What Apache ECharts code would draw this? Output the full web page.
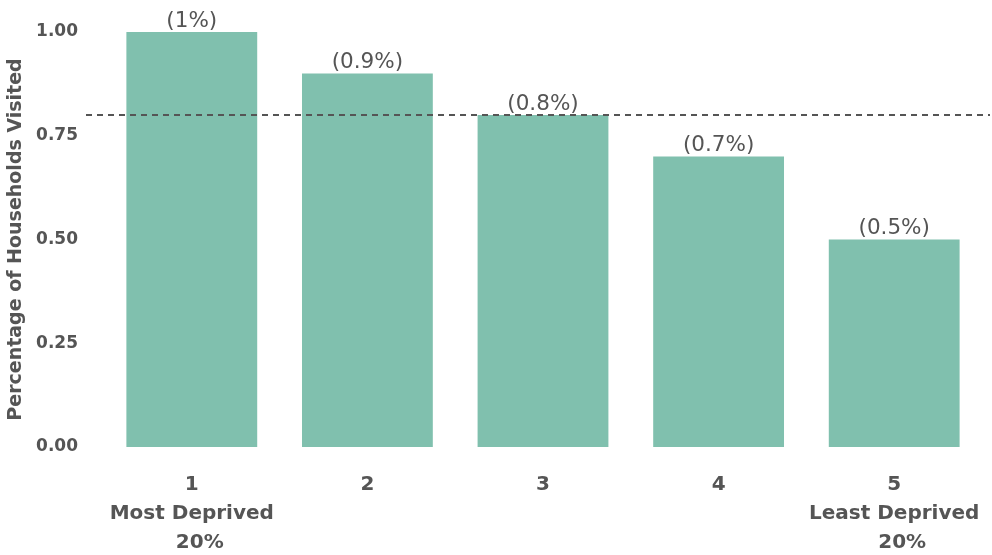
<!DOCTYPE html>
<html>
<head>
<meta charset="utf-8">
<script src="https://cdn.jsdelivr.net/npm/echarts@6/dist/echarts.min.js"></script>
<style>html,body{margin:0;padding:0;background:#fff}#c{width:992px;height:555px}</style>
</head>
<body>
<div id="c"></div>
<script>
var categories = ['1\nMost Deprived\n20%', '2', '3', '4', '5\nLeast Deprived\n20%'];
var values = [1.0, 0.9, 0.8, 0.7, 0.5];
var valueLabels = ['(1%)', '(0.9%)', '(0.8%)', '(0.7%)', '(0.5%)'];
var yTicks = [0, 0.25, 0.5, 0.75, 1.0];
var referenceValue = 0.8;

var FONT = 'DejaVu Sans, Liberation Sans, Arial, sans-serif';
var chart = echarts.init(document.getElementById('c'));
chart.setOption({
  animation: false,
  grid: {left: 104, right: 10, top: 32, bottom: 108, outerBoundsMode: 'none', containLabel: false},
  xAxis: {
    type: 'category',
    data: categories,
    axisLine: {show: false},
    axisTick: {show: false},
    axisLabel: {
      color: '#555', fontSize: 20, fontWeight: 'bold',
      fontFamily: FONT,
      lineHeight: 29, margin: 23, interval: 0,
      formatter: function (v) {
        var lines = v.split('\n');
        if (lines.length === 3) { lines[2] = '{p|' + lines[2] + '}'; }
        return lines.join('\n');
      },
      rich: {
        p: {color: '#555', fontSize: 20, fontWeight: 'bold', fontFamily: FONT, lineHeight: 29, padding: [0, 0, 0, 16]}
      }
    }
  },
  yAxis: {
    type: 'value', min: 0, max: 1, interval: 0.25,
    name: 'Percentage of Households Visited',
    nameLocation: 'middle', nameGap: 74,
    nameTextStyle: {color: '#555', fontSize: 19, fontWeight: 'bold', fontFamily: FONT},
    splitLine: {show: false},
    axisLine: {show: false},
    axisTick: {show: false},
    axisLabel: {
      color: '#555', fontSize: 17, fontWeight: 'bold', margin: 26,
      fontFamily: FONT,
      formatter: function (v) { return yTicks.indexOf(v) >= 0 ? v.toFixed(2) : ''; }
    }
  },
  series: [{
    type: 'bar',
    data: values,
    barCategoryGap: '25.5%',
    itemStyle: {color: '#80c0ae'},
    label: {
      show: true, position: 'top', distance: 0,
      color: '#555', fontSize: 21.5,
      fontFamily: FONT,
      formatter: function (p) { return valueLabels[p.dataIndex]; }
    },
    markLine: {
      silent: true, symbol: 'none',
      label: {show: false},
      lineStyle: {type: [6, 5], color: '#555', width: 2},
      data: [[{x: 86, yAxis: referenceValue}, {x: 990, yAxis: referenceValue}]]
    }
  }]
});
</script>
</body>
</html>
